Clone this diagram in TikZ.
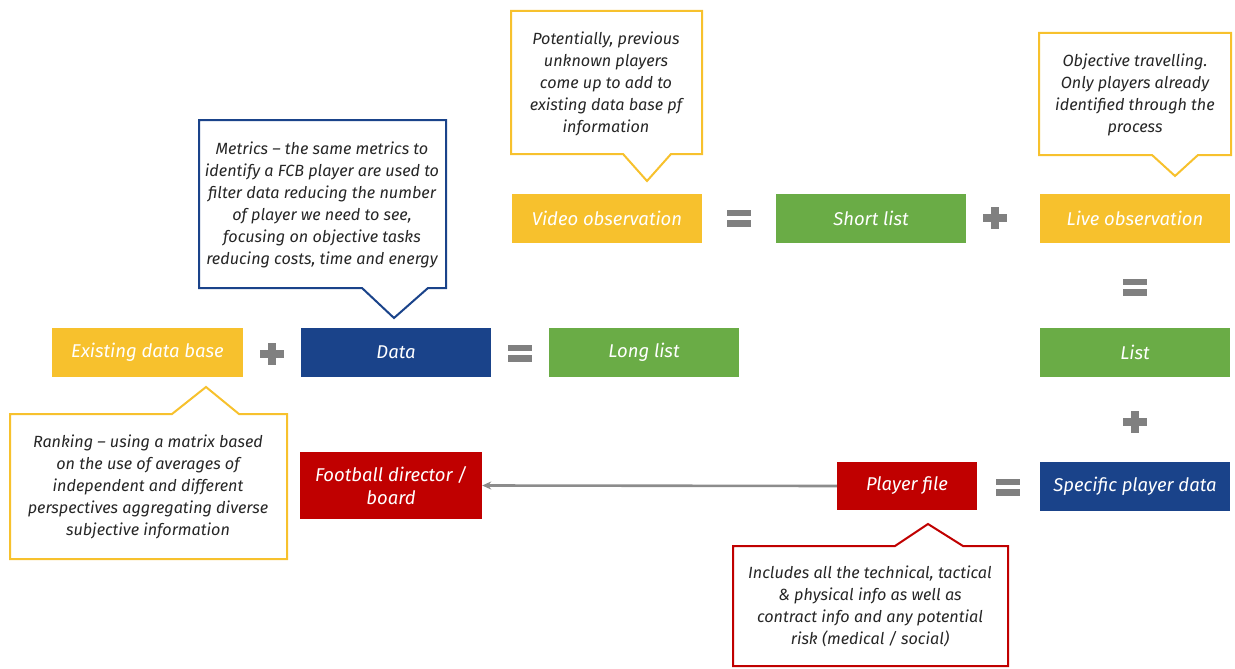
\documentclass[tikz,border=0pt]{standalone}
\usepackage{fontspec}
\setmainfont{Fira Sans}
\usetikzlibrary{arrows.meta}
\definecolor{fcbyellow}{RGB}{247,193,45}
\definecolor{fcbgreen}{RGB}{106,172,70}
\definecolor{fcbblue}{RGB}{26,67,138}
\definecolor{fcbred}{RGB}{192,0,0}
\definecolor{symgray}{RGB}{128,128,128}
\definecolor{arrowgray}{RGB}{140,140,140}
\tikzset{
  stage/.style={rectangle, minimum width=190pt, minimum height=49pt, inner sep=2pt,
    text=white, align=center, font=\fontsize{18.5}{23}\selectfont\itshape},
  yellowbox/.style={stage, fill=fcbyellow},
  greenbox/.style={stage, fill=fcbgreen},
  bluebox/.style={stage, fill=fcbblue},
  redbox/.style={stage, fill=fcbred},
  note/.style={align=center, text=black!85, inner sep=0pt,
    font=\fontsize{16.2}{22}\selectfont\itshape},
  bubble/.style={line width=2pt, fill=white, line join=miter},
  plussign/.pic={\fill[symgray] (-12,-4) rectangle (12,4); \fill[symgray] (-4,-11) rectangle (4,11);},
  eqsign/.pic={\fill[symgray] (-12,-8.5) rectangle (12,-1.8); \fill[symgray] (-12,1.8) rectangle (12,8.5);},
  flow/.style={arrowgray, line width=2.6pt, -{Stealth[length=9pt,width=8pt]}}
}
\begin{document}
\begin{tikzpicture}[x=1pt,y=-1pt]
\useasboundingbox (0,0) rectangle (1235,669);

% speech-bubble outlines of the notes
\draw[bubble, draw=fcbyellow] (511,11) -- (702,11) -- (702,154) -- (671,154) -- (647,181) -- (623,154) -- (511,154) -- cycle;
\draw[bubble, draw=fcbyellow] (1039,33) -- (1231,33) -- (1231,155) -- (1198,155) -- (1175,176) -- (1152,155) -- (1039,155) -- cycle;
\draw[bubble, draw=fcbblue] (199,120) -- (446,120) -- (446,288) -- (428,288) -- (394,318) -- (362,288) -- (199,288) -- cycle;
\draw[bubble, draw=fcbyellow] (10,414) -- (172,414) -- (206,387) -- (239,414) -- (287,414) -- (287,559) -- (10,559) -- cycle;
\draw[bubble, draw=fcbred] (733,546) -- (895,546) -- (928,524) -- (963,546) -- (1008,546) -- (1008,666) -- (733,666) -- cycle;

% note texts
\node[note] (nvid) at (606,84) {Potentially, previous\\unknown players\\come up to add to\\existing data base pf\\information};
\node[note] (nlive) at (1135,95) {Objective travelling.\\Only players already\\identified through the\\process};
\node[note] (nmetrics) at (322,205) {Metrics -- the same metrics to\\identify a FCB player are used to\\filter data reducing the number\\of player we need to see,\\focusing on objective tasks\\reducing costs, time and energy};
\node[note] (nrank) at (148,487) {Ranking -- using a matrix based\\on the use of averages of\\independent and different\\perspectives aggregating diverse\\subjective information};
\node[note] (nfile) at (870,606) {Includes all the technical, tactical\\\& physical info as well as\\contract info and any potential\\risk (medical / social)};

% process stages
\node[yellowbox] (vid) at (607,218) {Video observation};
\node[greenbox] (shortl) at (871,218) {Short list};
\node[yellowbox] (live) at (1135,218) {Live observation};
\node[yellowbox, minimum width=191pt] (exist) at (147.5,352.5) {Existing data base};
\node[bluebox] (data) at (396,352.5) {Data};
\node[greenbox] (longl) at (644,352.5) {Long list};
\node[greenbox] (list) at (1135,352.5) {List};
\node[bluebox] (spec) at (1135,486) {Specific player data};
\node[redbox, minimum width=140pt, minimum height=48pt] (pfile) at (907,486) {Player file};
\node[redbox, minimum width=182pt, minimum height=67pt] (fdir) at (391,485.5) {Football director /\\board};

% operators
\pic at (739,218) {eqsign};
\pic at (995,218) {plussign};
\pic at (1135,287) {eqsign};
\pic at (272,354) {plussign};
\pic at (520,353) {eqsign};
\pic at (1135,422) {plussign};
\pic at (1008,487) {eqsign};

% hand-over of the player file
\draw[flow] (pfile.west) -- (fdir.east);
\end{tikzpicture}
\end{document}
